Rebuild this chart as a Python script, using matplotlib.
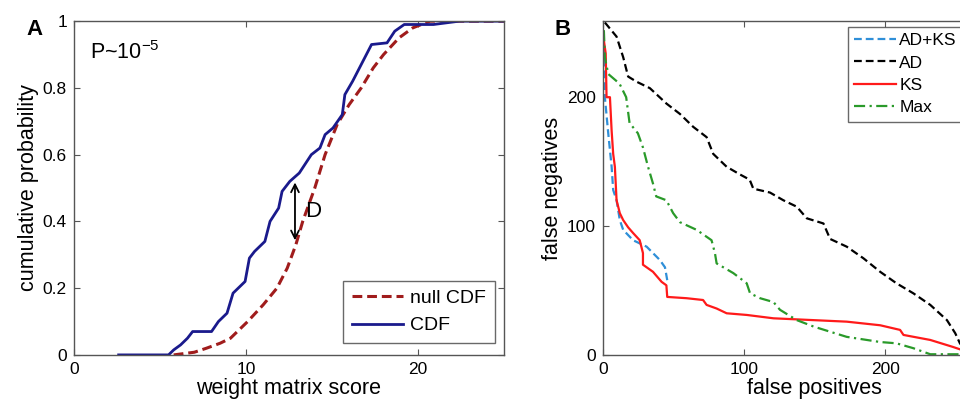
import numpy as np
import matplotlib
matplotlib.use("Agg")
import matplotlib.pyplot as plt

plt.rcParams["font.family"] = ["Liberation Sans", "DejaVu Sans"]

# ==========================================
# Panel A data: empirical CDF vs null CDF
# ==========================================
null_x = [5.8, 7.0, 7.7, 8.5, 9.1, 10.1, 11.0, 11.8, 12.4, 12.9, 13.3, 14.0,
          14.6, 15.3, 16.0, 16.7, 17.4, 18.0, 18.9, 19.7, 20.7, 25.0]
null_y = [0.0, 0.008, 0.02, 0.035, 0.05, 0.1, 0.15, 0.2, 0.26, 0.33, 0.4, 0.5,
          0.6, 0.69, 0.75, 0.8, 0.86, 0.9, 0.95, 0.98, 1.0, 1.0]

cdf_x = [2.6, 5.5, 5.8, 6.2, 6.6, 6.9, 8.0, 8.4, 8.9, 9.25, 9.95, 10.2, 10.5,
         11.1, 11.4, 11.9, 12.1, 12.55, 13.1, 13.8, 14.3, 14.6, 15.06, 15.6,
         15.75, 16.2, 16.5, 17.0, 17.3, 18.2, 18.65, 19.2, 20.9, 22.4, 25.0]
cdf_y = [0.0, 0.0, 0.015, 0.03, 0.05, 0.07, 0.07, 0.1, 0.125, 0.185, 0.22,
         0.29, 0.31, 0.34, 0.40, 0.44, 0.49, 0.52, 0.545, 0.60, 0.62, 0.66,
         0.68, 0.72, 0.78, 0.82, 0.85, 0.90, 0.93, 0.935, 0.97, 0.99, 0.99,
         1.0, 1.0]

# ==========================================
# Panel B data: false positives vs false negatives
# ==========================================
ad_fp = [1.4, 9.7, 14.4, 17.9, 23.9, 33.3, 45.1, 54.6, 64, 73.5, 78.2, 87.7,
         97.2, 104, 106.6, 118.4, 127.9, 137.4, 144.5, 156.3, 161, 172.8,
         184.6, 196.5, 208, 220, 232, 243.8, 249.7, 253, 258]
ad_fn = [258, 247, 231, 216, 212, 207, 195, 187, 177, 169, 156, 146, 140, 136,
         129, 126, 120, 115, 106, 102, 90, 84, 75, 64.5, 55.6, 47.8, 38.8, 27,
         16.8, 9, 2]

max_fp = [0.7, 1.4, 3.8, 11.8, 16.5, 18.9, 24.8, 28.4, 32, 35.5, 37.8, 45,
          49.8, 54.6, 66.5, 77, 79.4, 80.6, 92.4, 101.9, 104.3, 111.4, 120.9,
          125.5, 137.4, 149.3, 161, 172.8, 196.5, 208, 220, 232, 258]
max_fn = [252, 231, 218, 210.5, 200, 180, 172, 161, 146, 133, 123, 120, 110,
          103, 97, 89, 79, 71, 63.5, 55.6, 47.8, 44, 41, 35, 27, 22, 18, 14,
          10, 9, 5.2, 0.5, 0.5]

ks_fp = [0.7, 2, 2.6, 5, 6.2, 7.3, 8.5, 9.7, 12, 14.4, 17.9, 21.4, 26.1, 28.4,
         28.4, 35.5, 41.6, 45, 45.6, 59.3, 71, 73.5, 80.6, 87.7, 102, 120.9,
         149, 172.8, 196.5, 210.6, 213, 232, 248, 258]
ks_fn = [244, 234, 200, 200, 174, 156, 146, 120, 110, 104.6, 99, 94.6, 89, 79,
         70, 64.5, 56.7, 54, 45, 44, 42.6, 38.8, 36, 32.3, 31, 28.4, 27, 25.8,
         23, 19.4, 15.5, 11.6, 6.2, 2.5]

adks_fp = [0.7, 1.4, 3.8, 6.2, 7.3, 9.7, 12, 14.4, 21.4, 31, 40.4, 44, 45.6]
adks_fn = [239, 200, 172, 146, 128, 120, 104.6, 97, 89, 84, 73.6, 68, 58]

# ==========================================
# Figure
# ==========================================
fig = plt.figure(figsize=(9.6, 4.07), dpi=100)
axA = fig.add_axes([0.077, 0.128, 0.448, 0.82])
axB = fig.add_axes([0.628, 0.128, 0.441, 0.82])  # right part falls off the image

frame = "#555555"
for ax in (axA, axB):
    for s in ax.spines.values():
        s.set_color(frame)
        s.set_linewidth(1.0)
    ax.tick_params(direction="in", top=True, right=True, length=4,
                   color=frame, labelsize=12.5, pad=5)

# Panel A
axA.plot(null_x, null_y, color="#a01c1c", linestyle=(0, (3.2, 1.6)),
         linewidth=2.2, label="null CDF")
axA.plot(cdf_x, cdf_y, color="#1a1a8c", linewidth=2.0, label="CDF")
axA.annotate("", xy=(12.85, 0.335), xytext=(12.85, 0.525),
             arrowprops=dict(arrowstyle="<->", color="black", lw=1.3,
                             mutation_scale=14))
axA.text(13.45, 0.43, "D", fontsize=16, va="center", ha="left")
axA.text(0.95, 0.905, r"P~10$^{\mathregular{-5}}$", fontsize=15.5,
         va="center", ha="left")
axA.set_xlim(0, 25)
axA.set_ylim(0, 1)
axA.set_xticks([0, 10, 20])
axA.set_yticks([0, 0.2, 0.4, 0.6, 0.8, 1])
axA.set_yticklabels(["0", "0.2", "0.4", "0.6", "0.8", "1"])
axA.set_xlabel("weight matrix score", fontsize=15.5, labelpad=1)
axA.set_ylabel("cumulative probability", fontsize=15.5, labelpad=3)
legA = axA.legend(loc="lower right", fontsize=14, frameon=True, fancybox=False,
                  handlelength=2.6, borderpad=0.45, labelspacing=0.5,
                  handletextpad=0.4, borderaxespad=0,
                  bbox_to_anchor=(0.979, 0.035))
legA.get_frame().set_edgecolor("#444444")
legA.get_frame().set_linewidth(1.0)

# Panel B
axB.plot(adks_fp, adks_fn, color="#2f8fd8", linestyle=(0, (3.5, 1.8)),
         linewidth=1.6, label="AD+KS")
axB.plot(ad_fp, ad_fn, color="black", linestyle=(0, (3.5, 1.8)),
         linewidth=1.6, label="AD")
axB.plot(ks_fp, ks_fn, color="#ff1a1a", linewidth=1.6, label="KS")
axB.plot(max_fp, max_fn, color="#2a9a2a", linestyle=(0, (5, 2, 1, 2)),
         linewidth=1.6, label="Max")
axB.set_xlim(0, 300)
axB.set_ylim(0, 259)
axB.set_xticks([0, 100, 200])
axB.set_yticks([0, 100, 200])
axB.set_xlabel("false positives", fontsize=15.5, labelpad=1)
axB.set_ylabel("false negatives", fontsize=15.5, labelpad=3)
legB = axB.legend(loc="upper right", fontsize=12.5, frameon=True,
                  fancybox=False, handlelength=2.4, borderpad=0.35,
                  labelspacing=0.42, handletextpad=0.2, borderaxespad=0,
                  bbox_to_anchor=(1.003, 0.934),
                  bbox_transform=fig.transFigure)
legB.get_frame().set_edgecolor("#444444")
legB.get_frame().set_linewidth(1.0)

# Panel letters
fig.text(0.028, 0.915, "A", fontsize=16, fontweight="bold")
fig.text(0.578, 0.915, "B", fontsize=16, fontweight="bold")

plt.savefig("out.png", dpi=100)
plt.close()
